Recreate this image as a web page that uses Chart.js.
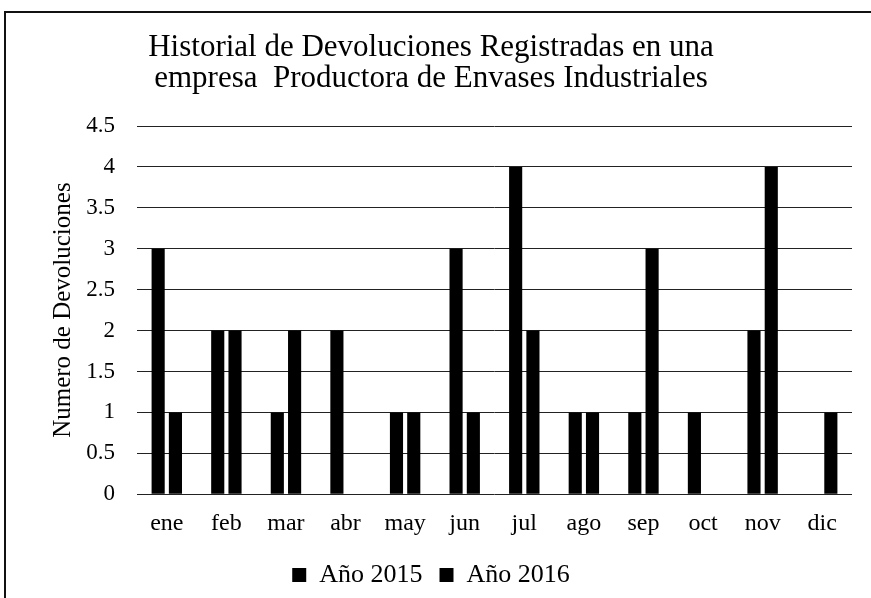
<!DOCTYPE html>
<html>
<head>
<meta charset="utf-8">
<script src="https://cdn.jsdelivr.net/npm/chart.js@4/dist/chart.umd.min.js"></script>
<style>
  html, body { margin: 0; padding: 0; background: #fff; }
  #frame {
    position: absolute; left: 4px; top: 11px; width: 867px; height: 587px;
    border-left: 2px solid #111; border-top: 2px solid #111;
  }
  #wrap { position: absolute; left: 0; top: 0; width: 871px; height: 598px; }
</style>
</head>
<body>
<div id="frame"></div>
<div id="wrap"><canvas id="chart" width="871" height="598"></canvas></div>
<script>
const months = ["ene", "feb", "mar", "abr", "may", "jun", "jul", "ago", "sep", "oct", "nov", "dic"];
const devol2015 = [3, 2, 1, 2, 1, 3, 4, 1, 1, 1, 2, 0];
const devol2016 = [1, 2, 2, 0, 1, 1, 2, 1, 3, 0, 4, 1];
const titleLines = ["Historial de Devoluciones Registradas en una", "empresa  Productora de Envases Industriales"];
const serif = "'Liberation Serif', 'Times New Roman', serif";

const ctx = document.getElementById("chart").getContext("2d");
new Chart(ctx, {
  type: 'bar',
  data: {
    labels: months,
    datasets: [
      { label: 'Año 2015', data: devol2015, backgroundColor: '#000', categoryPercentage: 0.58, barPercentage: 0.76 },
      { label: 'Año 2016', data: devol2016, backgroundColor: '#000', categoryPercentage: 0.58, barPercentage: 0.76 }
    ]
  },
  options: {
    responsive: false,
    animation: false,
    layout: { padding: { left: 10, right: 19, top: 0, bottom: 0 } },
    plugins: {
      title: {
        display: true,
        text: titleLines,
        color: '#000',
        font: { family: serif, size: 31, weight: 'normal', lineHeight: 1.0 },
        padding: { top: 32, bottom: 32 }
      },
      legend: {
        position: 'bottom',
        labels: {
          color: '#000',
          font: { family: serif, size: 26 },
          boxWidth: 14, boxHeight: 14,
          padding: 17
        }
      },
      tooltip: { enabled: false }
    },
    scales: {
      x: {
        grid: { display: false },
        border: { display: false },
        ticks: { color: '#000', font: { family: serif, size: 24 }, padding: 7 }
      },
      y: {
        min: 0, max: 4.5,
        ticks: {
          stepSize: 0.5, color: '#000', font: { family: serif, size: 23 }, padding: 22,
          callback: v => String(v)
        },
        grid: { color: '#222', lineWidth: 1, drawTicks: false },
        border: { display: false },
        title: {
          display: true, text: 'Numero de Devoluciones', color: '#000',
          font: { family: serif, size: 25 }, padding: { top: 38, bottom: 0 }
        },
        afterFit: s => { s.width = 127; }
      }
    }
  }
});
</script>
</body>
</html>
